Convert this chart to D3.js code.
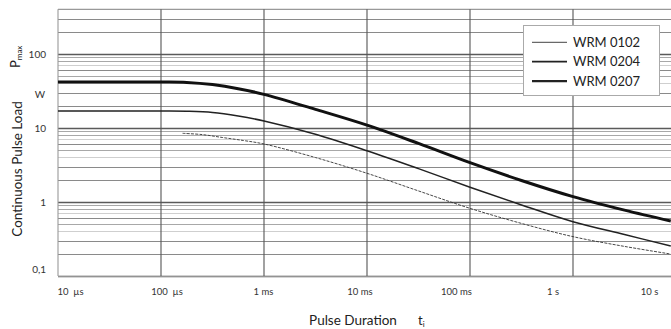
<!DOCTYPE html>
<html><head><meta charset="utf-8">
<script src="https://cdn.jsdelivr.net/npm/d3@7"></script>
<style>
html,body{margin:0;padding:0;background:#fff;}
svg{display:block;font-family:Lato, "Open Sans", sans-serif;}
</style></head>
<body>
<svg id="chart" width="671" height="329"></svg>
<script>
// ---- data ----
const seriesNames = ["WRM 0102", "WRM 0204", "WRM 0207"];
const xTickValues = [1e-5, 1e-4, 1e-3, 1e-2, 1e-1, 1, 10];
const xTickLabels = ["10  µs", "100  µs", "1 ms", "10 ms", "100 ms", "1 s", "10 s"];
const yTickValues = [0.1, 1, 10, 100];
const yTickLabels = ["0,1", "1", "10", "100"];
// pulse duration (s) and load (W)
const tWide  = [1e-5, 1e-4, 1.78e-4, 3.16e-4, 5.62e-4, 1e-3, 3.16e-3, 1e-2, 3.16e-2, 0.1, 0.316, 1, 3.16, 8.9];
const p0207 = [41.7, 41.7, 41.2, 38.5, 33.9, 28.4, 17.8, 10.9, 6.17, 3.39, 1.95, 1.18, 0.776, 0.553];
const p0204 = [16.9, 16.9, 16.8, 16.2, 14.5, 12.4, 8.22, 4.92, 2.82, 1.58, 0.912, 0.541, 0.363, 0.254];
const t0102 = [1.62e-4, 2.51e-4, 3.98e-4, 6.31e-4, 1e-3, 3.16e-3, 1e-2, 3.16e-2, 0.1, 0.316, 1, 3.16, 8.9];
const p0102 = [8.45, 8.13, 7.41, 6.76, 6.07, 3.98, 2.44, 1.41, 0.82, 0.513, 0.34, 0.251, 0.198];

const svg = d3.select("#chart");
const x = d3.scaleLog().domain([1e-5, 10]).range([58, 676]);
const xLab = d3.scaleLog().domain([1e-5, 10]).range([70, 649]);
const y = d3.scaleLog().domain([0.1, 400]).range([276, 9.3]);

// horizontal grid
const hGrid = [];
for (let e = -1; e <= 2; e++) for (let m = 1; m <= 9; m++) {
  const v = m * Math.pow(10, e);
  if (v <= 400) hGrid.push({v, m});
}
function gridColor(m){ return m === 1 ? "#5a5a5a" : ([2,3,6].includes(m) ? "#8a8a8a" : (m===5||m===9||m===8?"#a8a8a8":"#cfcfcf")); }
svg.append("g").selectAll("line").data(hGrid).join("line")
  .attr("x1", 58).attr("x2", 671)
  .attr("y1", d => Math.round(y(d.v)) + 0.5).attr("y2", d => Math.round(y(d.v)) + 0.5)
  .attr("stroke", d => gridColor(d.m)).attr("stroke-width", d => d.m === 1 ? 1.3 : 1);

// top & bottom borders
svg.append("line").attr("x1",58).attr("x2",671).attr("y1",y(400)).attr("y2",y(400)).attr("stroke","#999").attr("stroke-width",1.2);
svg.append("line").attr("x1",58).attr("x2",671).attr("y1",y(0.1)).attr("y2",y(0.1)).attr("stroke","#ccc").attr("stroke-width",1.2);

// vertical grid
svg.append("g").selectAll("line").data(xTickValues).join("line")
  .attr("x1", d => x(d)).attr("x2", d => x(d))
  .attr("y1", y(400)).attr("y2", y(0.1))
  .attr("stroke", (d,i) => i === 0 ? "#999" : "#555").attr("stroke-width", 1.1);

// curves
const line = d3.line().x(d => x(d[0])).y(d => y(d[1])).curve(d3.curveCatmullRom.alpha(0.5));
const curves = [
  {t: t0102, p: p0102, w: 0.9, dash: "3,1.2", c: "#333"},
  {t: tWide, p: p0204, w: 1.5, dash: null, c: "#222"},
  {t: tWide, p: p0207, w: 3, dash: null, c: "#111"}
];
curves.forEach(s => {
  svg.append("path").datum(s.t.map((t,i) => [t, s.p[i]]))
    .attr("d", line).attr("fill","none").attr("stroke", s.c)
    .attr("stroke-width", s.w).attr("stroke-dasharray", s.dash);
});

// legend
const lg = svg.append("g");
lg.append("rect").attr("x",523.5).attr("y",25.5).attr("width",136).attr("height",70)
  .attr("fill","#fff").attr("stroke","#aaa").attr("stroke-width",1);
const lw = [1, 1.7, 2.4];
seriesNames.forEach((n,i) => {
  const yy = 42.3 + i*19.4;
  lg.append("line").attr("x1",532).attr("x2",567).attr("y1",yy).attr("y2",yy)
    .attr("stroke", i===0?"#444":"#222").attr("stroke-width", lw[i]);
  lg.append("text").attr("x",573).attr("y",yy).attr("dy","0.36em")
    .attr("font-size",13).attr("fill","#222").text(n);
});

// y axis labels
const yAxis = d3.axisLeft(y).tickValues(yTickValues).tickSize(0)
  .tickFormat((d,i) => yTickLabels[i]);
const yg = svg.append("g").attr("transform","translate(49,0)").call(yAxis);
yg.select(".domain").remove();
yg.selectAll("text").attr("font-size",10).attr("fill","#333").attr("font-family","Lato, sans-serif")
  .attr("dx", 0).attr("dy", (d) => d === 0.1 ? "-0.35em" : "0.32em");
svg.append("text").attr("x",40).attr("y",94).attr("dy","0.35em").attr("text-anchor","middle")
  .attr("font-size",10).attr("fill","#333").text("W");

// x axis labels
const xAxis = d3.axisBottom(xLab).tickValues(xTickValues).tickSize(0)
  .tickFormat((d,i) => xTickLabels[i]);
const xg = svg.append("g").attr("transform","translate(0,285)").call(xAxis);
xg.select(".domain").remove();
xg.selectAll("text").attr("font-size",9.5).attr("fill","#333").attr("font-family","Lato, sans-serif")
  .style("white-space","pre").attr("xml:space","preserve");

// axis titles
svg.append("text").attr("x",353).attr("y",325).attr("text-anchor","middle")
  .attr("font-size",13.5).attr("fill","#222").text("Pulse Duration");
const ti = svg.append("text").attr("x",418).attr("y",325).attr("font-size",13).attr("fill","#222");
ti.append("tspan").text("t");
ti.append("tspan").attr("font-size",8).attr("dy",1.5).text("i");

svg.append("text").attr("transform","translate(22,169) rotate(-90)").attr("text-anchor","middle")
  .attr("font-size",13.5).attr("fill","#222").text("Continuous Pulse Load");
const pm = svg.append("text").attr("transform","translate(20,68) rotate(-90)").attr("font-size",13).attr("fill","#222");
pm.append("tspan").text("P");
pm.append("tspan").attr("font-size",8).attr("dy",2).text("max");
</script>
</body></html>
